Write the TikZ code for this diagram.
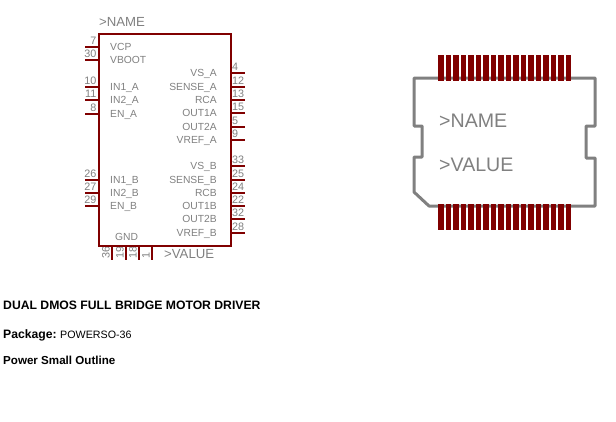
\documentclass[tikz,border=0pt]{standalone}
\usepackage{fontspec}
\setmainfont{Liberation Sans}
\colorlet{pinred}{red!50!black}
\colorlet{textgray}{black!50}
\tikzset{
    pinline/.style={pinred, line width=2.1pt},
    pinname/.style={textgray, inner sep=0pt, font=\fontsize{10.3}{12}\selectfont},
    pinnum/.style={textgray, inner sep=0pt, font=\fontsize{10.8}{12}\selectfont},
    attrname/.style={textgray, inner sep=0pt, font=\fontsize{13.2}{15}\selectfont},
    pkgname/.style={textgray, inner sep=0pt, font=\fontsize{19.6}{22}\selectfont},
    infotext/.style={black, inner sep=0pt, anchor=base west, font=\fontsize{11.6}{14}\selectfont\bfseries}
}
\begin{document}
\begin{tikzpicture}[x=1pt,y=-1pt]
        \useasboundingbox (0,0) rectangle (616,421);
        \foreach \y/\p/\n in {47/7/VCP,60/30/VBOOT,87/10/IN1\_A,100/11/IN2\_A,114/8/EN\_A,180/26/IN1\_B,193/27/IN2\_B,206/29/EN\_B}{
            \draw[pinline](85,\y)--(99,\y);
            \node[pinnum, anchor=base east] (numl\p) at (96.5,\y-2.5) {\p};
            \node[pinname, anchor=base west] (namel\p) at (110,\y+3) {\n};
        }
        \foreach \y/\p/\n in {73/4/VS\_A,87/12/SENSE\_A,100/13/RCA,113/15/OUT1A,127/5/OUT2A,140/9/VREF\_A,166/33/VS\_B,180/25/SENSE\_B,193/24/RCB,206/22/OUT1B,219/32/OUT2B,233/28/VREF\_B}{
            \draw[pinline](231,\y)--(245,\y);
            \node[pinnum, anchor=base west] (numr\p) at (232,\y-2.5) {\p};
            \node[pinname, anchor=base east] (namer\p) at (217,\y+3.5) {\n};
        }
        \foreach \x/\p in {112/36,126/19,139/18,152/1}{
            \draw[pinline](\x,246)--(\x,260);
            \node[pinnum, rotate=90, anchor=base west] (numb\p) at (\x-2.5,259) {\p};
        }
        \draw[pinred, line width=2.3pt](99,34) rectangle (231,246);
        \node[pinname, anchor=base west] (gnd) at (115,240) {GND};
        \node[attrname, anchor=base west] (symname) at (99,26) {>NAME};
        \node[attrname, anchor=base west] (symvalue) at (164,258) {>VALUE};
        \draw[textgray, line width=3pt, line join=round](414,78)--(595,78)--(595,126)--(586,126)--(586,158)--(595,158)--(595,206)--(429,206)--(414,192)--(414,157)--(422,157)--(422,126)--(414,126)--cycle;
        \foreach \i in {0,1,...,17}{
            \fill[pinred](438+\i*7.5,55) rectangle (443.5+\i*7.5,81);
            \fill[pinred](438+\i*7.5,204) rectangle (443.5+\i*7.5,230);
        }
        \node[pkgname, anchor=base west] (pkgname) at (439,127) {>NAME};
        \node[pkgname, anchor=base west] (pkgvalue) at (439,171) {>VALUE};
        \node[infotext, font=\fontsize{12.2}{14}\selectfont\bfseries] (title) at (3,309) {DUAL DMOS FULL BRIDGE MOTOR DRIVER};
        \node[infotext, font=\fontsize{12.2}{14}\selectfont\bfseries] (package) at (3,338) {Package:};
        \node[infotext, font=\fontsize{10.7}{14}\selectfont] (packagetype) at (60,338) {POWERSO-36};
        \node[infotext] (outline) at (3,364) {Power Small Outline};
    \end{tikzpicture}
\end{document}
